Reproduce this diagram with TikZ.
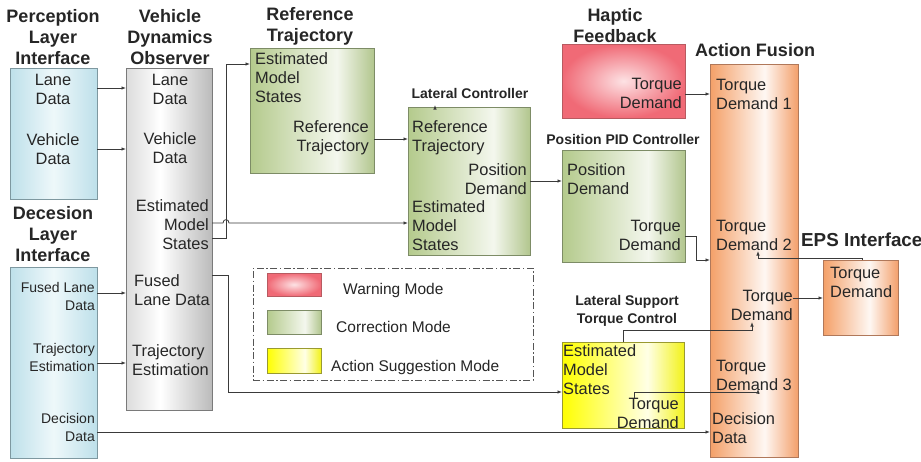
\documentclass[tikz,border=0pt]{standalone}
\usepackage{fontspec}
\setmainfont{Liberation Sans}
\usetikzlibrary{arrows.meta}
\definecolor{lnC}{HTML}{3A3A3A}
\definecolor{txtC}{HTML}{262626}
\definecolor{blueE}{HTML}{BEE0EA}
\definecolor{blueM}{HTML}{EEF8FA}
\definecolor{blueB}{HTML}{7E98A0}
\definecolor{grayL}{HTML}{DCDCDC}
\definecolor{grayR}{HTML}{BBBBBB}
\definecolor{grayB}{HTML}{7A7A7A}
\definecolor{greenL}{HTML}{B4CA8C}
\definecolor{greenR}{HTML}{B2C68E}
\definecolor{greenB}{HTML}{7D8C66}
\definecolor{redO}{HTML}{F06A76}
\definecolor{redI}{HTML}{FDE2E4}
\definecolor{redB}{HTML}{B85A60}
\definecolor{yelL}{HTML}{FFFF00}
\definecolor{yelR}{HTML}{F2F21A}
\definecolor{yelB}{HTML}{9A9A30}
\definecolor{orL}{HTML}{F4A068}
\definecolor{orR}{HTML}{F3A06C}
\definecolor{orB}{HTML}{B0785A}
\definecolor{legB}{HTML}{555555}
\pgfdeclarehorizontalshading{blueSh}{100bp}{color(0bp)=(blueE); color(25bp)=(blueE); color(50bp)=(blueM); color(75bp)=(blueE); color(100bp)=(blueE)}
\pgfdeclarehorizontalshading{graySh}{100bp}{color(0bp)=(grayL); color(25bp)=(grayL); color(45bp)=(white); color(75bp)=(grayR); color(100bp)=(grayR)}
\pgfdeclarehorizontalshading{greenSh}{100bp}{color(0bp)=(greenL); color(25bp)=(greenL); color(60bp)=(white!85!greenL); color(75bp)=(greenR); color(100bp)=(greenR)}
\pgfdeclarehorizontalshading{yelSh}{100bp}{color(0bp)=(yelL); color(25bp)=(yelL); color(60bp)=(white!90!yelL); color(75bp)=(yelR); color(100bp)=(yelR)}
\pgfdeclarehorizontalshading{orSh}{100bp}{color(0bp)=(orL); color(25bp)=(orL); color(56bp)=(white!92!orL); color(75bp)=(orR); color(100bp)=(orR)}
\begin{document}
\begin{tikzpicture}[x=1pt,y=-1pt,
  bx/.style={line width=0.8pt, inner sep=0pt, outer sep=0pt},
  blueBox/.style={bx, draw=blueB, shading=blueSh},
  grayBox/.style={bx, draw=grayB, shading=graySh},
  greenBox/.style={bx, draw=greenB, shading=greenSh},
  redBox/.style={bx, draw=redB, inner color=redI, outer color=redO},
  yelBox/.style={bx, draw=yelB, shading=yelSh},
  orBox/.style={bx, draw=orB, shading=orSh},
  ttl/.style={inner sep=0pt, align=center, font=\fontsize{18}{21}\selectfont\bfseries, text=txtC},
  sttl/.style={inner sep=0pt, align=center, font=\fontsize{14}{18}\selectfont\bfseries, text=txtC},
  txt/.style={inner sep=0pt, font=\fontsize{16.4}{19}\selectfont, text=txtC},
  stxt/.style={inner sep=0pt, font=\fontsize{14}{18}\selectfont, text=txtC},
  ltxt/.style={inner sep=0pt, anchor=west, font=\fontsize{15.5}{18}\selectfont, text=txtC},
  conn/.style={draw=lnC, line width=0.8pt, -{Latex[length=4.5pt,width=3.5pt]}},
  plain/.style={draw=lnC, line width=0.8pt}
]
\fill[white] (0,0) rectangle (921,461);
\useasboundingbox (0,0) rectangle (921,461);

% ---------- boxes ----------
\node[blueBox, minimum width=87, minimum height=131] (pli) at (53.5,133.5) {};
\node[blueBox, minimum width=87, minimum height=191] (dli) at (53.5,362.5) {};
\node[grayBox, minimum width=86, minimum height=342] (vdo) at (169,239) {};
\node[greenBox, minimum width=124, minimum height=125] (rt) at (312,110.5) {};
\node[greenBox, minimum width=122, minimum height=148] (lc) at (469,181) {};
\node[greenBox, minimum width=123, minimum height=112] (pid) at (623.5,206) {};
\node[redBox, minimum width=123, minimum height=74] (hap) at (623.5,81) {};
\node[orBox, minimum width=88, minimum height=393] (af) at (754,260.5) {};
\node[orBox, minimum width=75, minimum height=75] (eps) at (860.5,297.5) {};
\node[yelBox, minimum width=122, minimum height=86] (lstc) at (623,385) {};

% ---------- legend ----------
\node[draw=legB, line width=1pt, dash pattern=on 7pt off 2.5pt on 1.5pt off 2.5pt,
      minimum width=280, minimum height=112, inner sep=0pt] (leg) at (393,324) {};
\node[redBox, minimum width=54, minimum height=23] (swR) at (294,284.5) {};
\node[greenBox, minimum width=54, minimum height=24] (swG) at (294,322) {};
\node[yelBox, minimum width=54, minimum height=25] (swY) at (294,360.5) {};
\node[ltxt] (legR) at (343,290) {Warning Mode};
\node[ltxt] (legG) at (336,327) {Correction Mode};
\node[ltxt] (legY) at (331,367) {Action Suggestion Mode};

% ---------- titles ----------
\node[ttl] (pliT) at (53,37) {Perception\\Layer\\Interface};
\node[ttl] (vdoT) at (170,37) {Vehicle\\Dynamics\\Observer};
\node[ttl] (dliT) at (53,234) {Decesion\\Layer\\Interface};
\node[ttl] (rtT) at (310,26) {Reference\\Trajectory};
\node[ttl] (hapT) at (615,26) {Haptic\\Feedback};
\node[ttl] (afT) at (755,50) {Action Fusion};
\node[ttl, anchor=west, font=\fontsize{18.8}{21}\selectfont\bfseries] (epsT) at (801,240) {EPS Interface};
\node[sttl] (lcT) at (470,93) {Lateral Controller};
\node[sttl] (pidT) at (623,139) {Position PID Controller};
\node[sttl] (lstcT) at (627,311) {Lateral Support\\Torque Control};

% ---------- texts ----------
\node[txt, align=center] (pliLane) at (53,89) {Lane\\Data};
\node[txt, align=center] (pliVeh) at (53,149) {Vehicle\\Data};
\node[stxt, align=right, anchor=east] (dliFused) at (95,296) {Fused Lane\\Data};
\node[stxt, align=right, anchor=east] (dliTraj) at (95,357) {Trajectory\\Estimation};
\node[stxt, align=right, anchor=east] (dliDec) at (95,427) {Decision\\Data};

\node[txt, align=center] (vdoLane) at (170,89) {Lane\\Data};
\node[txt, align=center] (vdoVeh) at (170,148) {Vehicle\\Data};
\node[txt, align=right, anchor=east] (vdoEst) at (209,225) {Estimated\\Model\\States};
\node[txt, align=left, anchor=west] (vdoFused) at (134,290) {Fused\\Lane Data};
\node[txt, align=left, anchor=west] (vdoTraj) at (132,360) {Trajectory\\Estimation};

\node[txt, align=left, anchor=west] (rtEst) at (255,78) {Estimated\\Model\\States};
\node[txt, align=right, anchor=east] (rtRef) at (369,138) {Reference\\Trajectory};

\node[txt, align=left, anchor=west] (lcRef) at (412,138) {Reference\\Trajectory};
\node[txt, align=right, anchor=east] (lcPos) at (527,179) {Position\\Demand};
\node[txt, align=left, anchor=west] (lcEst) at (412,226) {Estimated\\Model\\States};

\node[txt, align=left, anchor=west] (pidPos) at (567,179) {Position\\Demand};
\node[txt, align=right, anchor=east] (pidTD) at (681,235) {Torque\\Demand};

\node[txt, align=right, anchor=east] (hapTD) at (682,93) {Torque\\Demand};

\node[txt, align=left, anchor=west] (afTD1) at (716,94) {Torque\\Demand 1};
\node[txt, align=left, anchor=west] (afTD2) at (716,235) {Torque\\Demand 2};
\node[txt, align=right, anchor=east] (afTD) at (793,305) {Torque\\Demand};
\node[txt, align=left, anchor=west] (afTD3) at (716,375) {Torque\\Demand 3};
\node[txt, align=left, anchor=west] (afDec) at (712,428) {Decision\\Data};

\node[txt, align=left, anchor=west] (epsTD) at (830,282) {Torque\\Demand};

\node[txt, align=left, anchor=west] (lstcEst) at (563,370) {Estimated\\Model\\States};
\node[txt, align=right, anchor=east] (lstcTD) at (679,413) {Torque\\Demand};

% ---------- helper coordinates ----------
\coordinate (td2in) at (758,251);
\coordinate (tdin) at (752,322);
\coordinate (td3in) at (758,389);
\coordinate (lstcOut) at (634,398);
\coordinate (lcTop) at (435,109);

% ---------- connectors ----------
\draw[conn] (pli.east |- 0,88) -- (vdo.west |- 0,88);
\draw[conn] (pli.east |- 0,149) -- (vdo.west |- 0,149);
\draw[conn] (dli.east |- 0,293) -- (vdo.west |- 0,293);
\draw[conn] (dli.east |- 0,363) -- (vdo.west |- 0,363);
\draw[conn] (dli.east |- 0,432) -- (af.west |- 0,432);

\draw[conn] (vdo.east |- 0,238) -- (226,238) -- (226,64) -- (rt.west |- 0,64);
\draw[conn] (vdo.east |- 0,223) -- (223,223) .. controls (223,218.5) and (229,218.5) .. (229,223) -- (lc.west |- 0,223);
\draw[conn] (vdo.east |- 0,275) -- (228,275) -- (228,392) -- (lstc.west |- 0,392);

\draw[conn] (rt.east |- 0,139) -- (lc.west |- 0,139);
\draw[conn] (lc.east |- 0,181) -- (pid.west |- 0,181);
\draw[conn] (pid.east |- 0,236) -- (696,236) -- (696,260) -- (af.west |- 0,260);
\draw[conn] (hap.east |- 0,94) -- (af.west |- 0,94);

\draw[conn] (afTD.east |- 0,298) -- (eps.west |- 0,298);
\draw[conn] ([xshift=1.5pt]eps.north) -- ++(0,-1.5) -| (td2in);
\draw[conn] (lstc.north) |- (752,330) -- (tdin);
\draw[conn] (lstcOut) -- (634,392.5) -| (td3in);
\draw[conn] (lcTop) -- (lc.north -| lcTop) -- ++(0,-2);
\end{tikzpicture}
\end{document}
